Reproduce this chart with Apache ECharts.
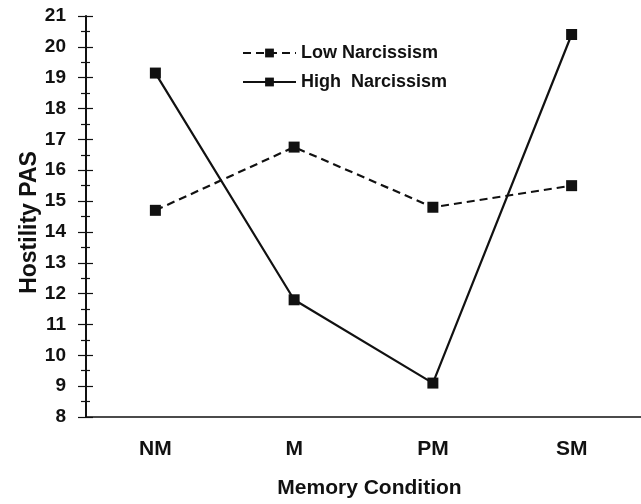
<!DOCTYPE html>
<html>
<head>
<meta charset="utf-8">
<script src="https://cdn.jsdelivr.net/npm/echarts@6/dist/echarts.min.js"></script>
<style>
  html, body { margin: 0; padding: 0; background: #fff; }
  #chart { width: 641px; height: 504px; }
</style>
</head>
<body>
<div id="chart"></div>
<script>
// 记忆条件
const categories = ['NM', 'M', 'PM', 'SM'];
const lowNarcissism = [14.7, 16.75, 14.8, 15.5];
const highNarcissism = [19.15, 11.8, 9.1, 20.4];
const yMin = 8;
const yMax = 21;

const font = 'Liberation Sans, Arial, Helvetica, sans-serif';
const ink = '#111';

let chart = echarts.init(document.getElementById('chart'));
let option = {
  animation: false,
  backgroundColor: '#fff',
  grid: {
    left: 86,
    right: -5,
    top: 16,
    bottom: 87
  },
  legend: {
    orient: 'vertical',
    left: 237,
    top: 39,
    itemWidth: 53,
    itemHeight: 11,
    itemGap: 11,
    textStyle: { fontFamily: font, fontSize: 18, fontWeight: 'bold', color: ink },
    data: ['Low Narcissism', 'High  Narcissism']
  },
  xAxis: [{
    type: 'category',
    data: categories,
    boundaryGap: true,
    name: 'Memory Condition',
    nameLocation: 'middle',
    nameGap: 61,
    nameTextStyle: { fontFamily: font, fontSize: 21, fontWeight: 'bold', color: ink, padding: [0, 0, 0, 12] },
    axisLine: { lineStyle: { color: ink, width: 1.5 } },
    axisTick: { alignWithLabel: true, length: 13, lineStyle: { color: ink, width: 1.2 } },
    axisLabel: { fontFamily: font, fontSize: 21, fontWeight: 'bold', color: ink, margin: 22 },
    splitLine: { show: false }
  }, {
    // 向内的刻度
    type: 'category',
    data: categories,
    position: 'bottom',
    boundaryGap: true,
    axisLine: { show: false },
    axisTick: { alignWithLabel: true, inside: true, length: 6, lineStyle: { color: ink, width: 1.2 } },
    axisLabel: { show: false },
    splitLine: { show: false }
  }],
  yAxis: [{
    type: 'value',
    min: yMin,
    max: yMax,
    interval: 1,
    name: 'Hostility PAS',
    nameLocation: 'middle',
    nameGap: 45,
    nameMoveOverlap: false,
    nameTextStyle: { fontFamily: font, fontSize: 23, fontWeight: 'bold', color: ink, padding: [0, 12, 0, 0] },
    axisLine: { show: true, lineStyle: { color: ink, width: 2 } },
    axisTick: { show: true, length: 8, lineStyle: { color: ink, width: 1.2 } },
    minorTick: { show: true, splitNumber: 2, length: 5, lineStyle: { color: ink, width: 1.2 } },
    axisLabel: { fontFamily: font, fontSize: 19, fontWeight: 'bold', color: ink, margin: 20 },
    splitLine: { show: false }
  }, {
    type: 'value',
    min: yMin,
    max: yMax,
    interval: 1,
    position: 'left',
    axisLine: { show: false },
    axisTick: { show: true, inside: true, length: 7, lineStyle: { color: ink, width: 1.2 } },
    minorTick: { show: true, splitNumber: 2, length: 4, lineStyle: { color: ink, width: 1.2 } },
    axisLabel: { show: false },
    splitLine: { show: false }
  }],
  series: [{
    name: 'Low Narcissism',
    type: 'line',
    data: lowNarcissism,
    symbol: 'rect',
    symbolSize: 11,
    itemStyle: { color: ink },
    lineStyle: { color: ink, width: 2.2, type: [8, 5] }
  }, {
    name: 'High  Narcissism',
    type: 'line',
    data: highNarcissism,
    symbol: 'rect',
    symbolSize: 11,
    itemStyle: { color: ink },
    lineStyle: { color: ink, width: 2.2 }
  }]
};
chart.setOption(option);
</script>
</body>
</html>
